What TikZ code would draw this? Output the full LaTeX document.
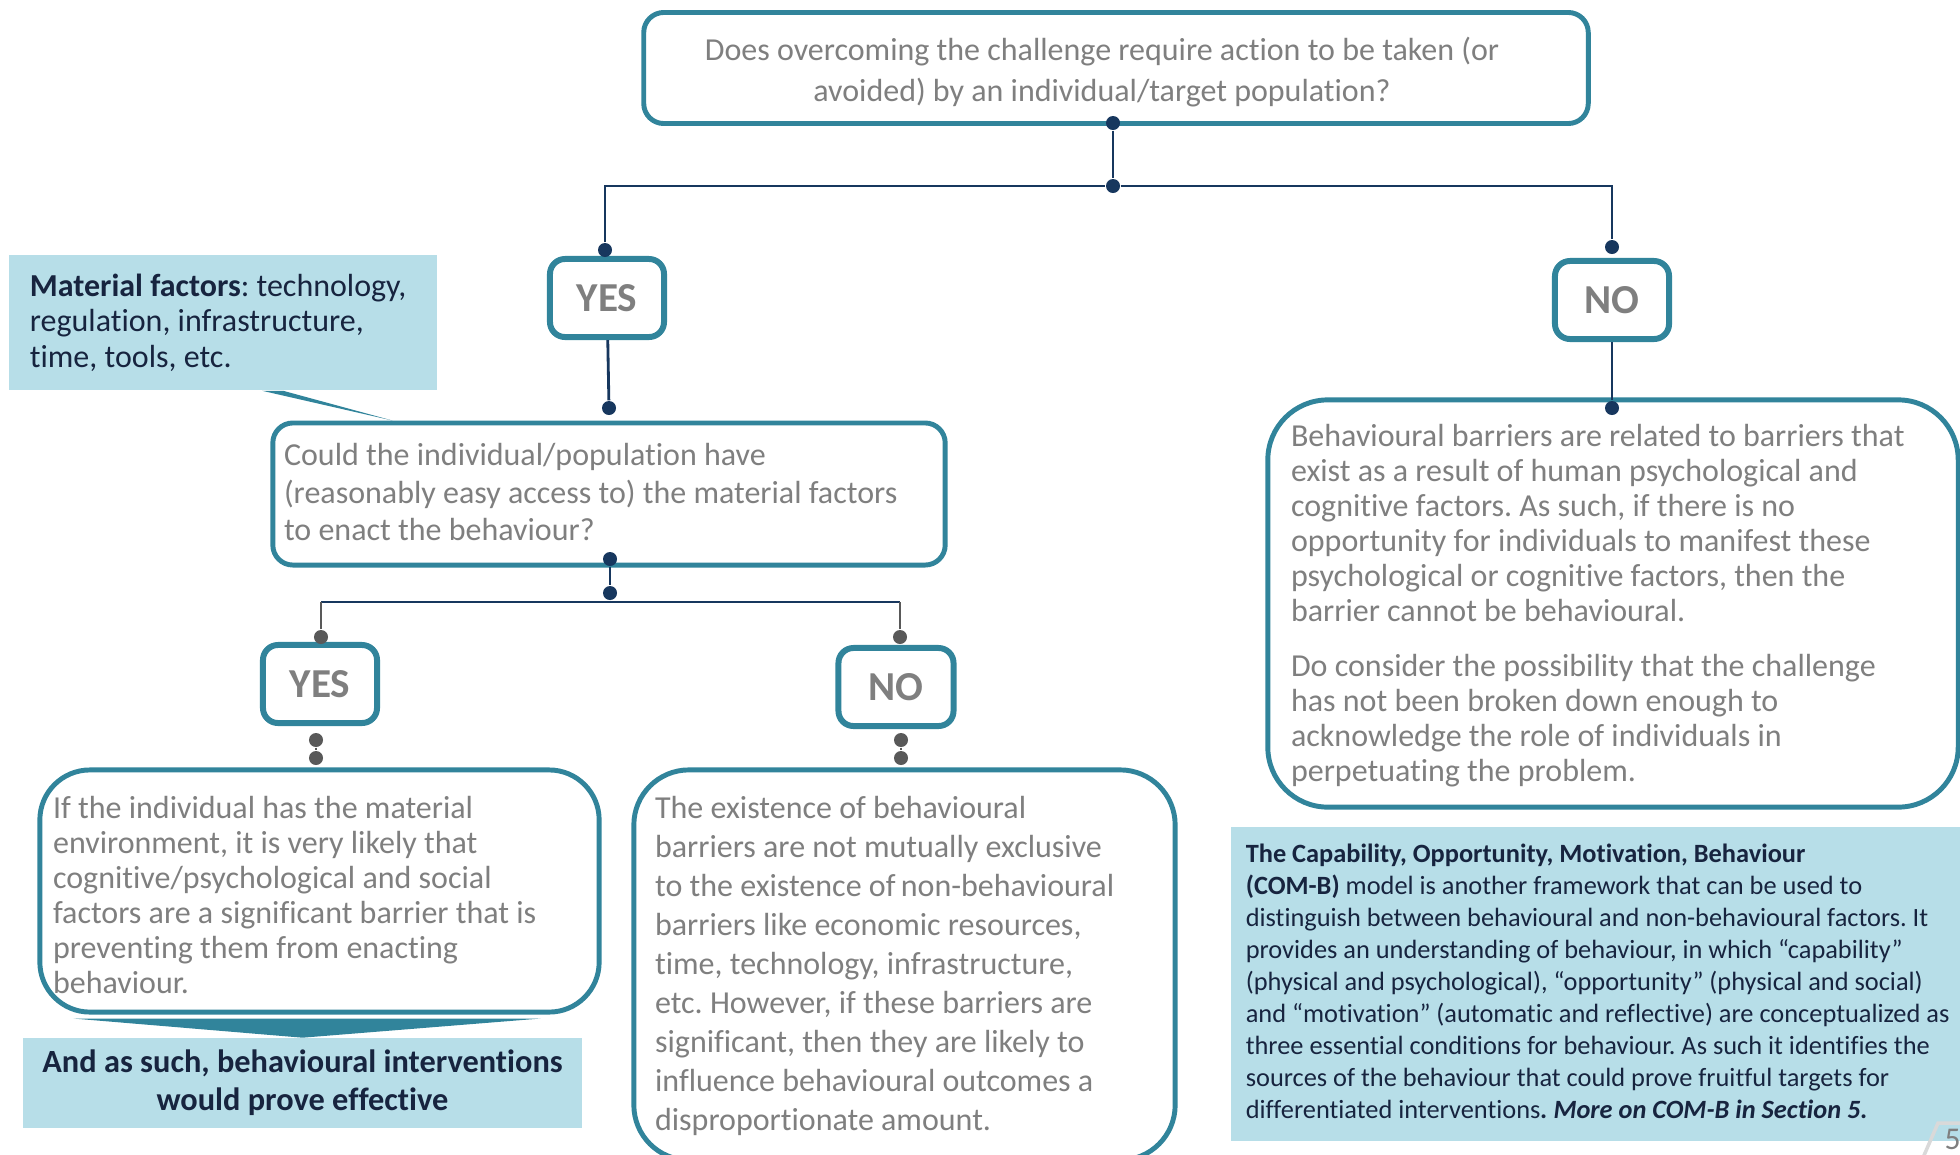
\documentclass[tikz,border=0pt]{standalone}
\usepackage{fontspec}
\setmainfont{Carlito}[Ligatures=NoCommon]
\usepackage{tikz}
\usetikzlibrary{calc}
\definecolor{boxteal}{HTML}{31849B}
\definecolor{calloutblue}{HTML}{B7DEE8}
\definecolor{calloutink}{HTML}{17243F}
\definecolor{linknavy}{HTML}{17375E}
\definecolor{bodygray}{HTML}{7F7F7F}
\definecolor{subgray}{HTML}{595959}
\definecolor{pagegray}{HTML}{D9D9D9}
\frenchspacing

\begin{document}
\begin{tikzpicture}[x=0.01cm,y=-0.01cm,
  frame/.style={draw=boxteal,line width=1.4pt,fill=white,rounded corners=#1},
  frame/.default=0.2cm,
  callout/.style={fill=calloutblue,text=calloutink},
  answer/.style={draw=boxteal,line width=1.7pt,fill=white,rounded corners=0.15cm,
    minimum width=1.14cm,minimum height=0.78cm,text=bodygray,
    font=\fontsize{11.7}{14}\selectfont\bfseries},
  body/.style={align=left,text=bodygray,inner sep=0pt,anchor=west},
  dot/.style={circle,fill=#1,inner sep=0pt,minimum size=0.14cm},
  dot/.default=linknavy,
  link/.style={draw=linknavy,line width=0.8pt},
  sublink/.style={draw=subgray,line width=0.6pt}]
\useasboundingbox (0,0) rectangle (1960,1154);
\clip (0,0) rectangle (1960,1154);

% questions and answers
\node[frame,minimum width=9.44cm,minimum height=1.11cm] (qtop) at (1116,68) {};
\node[align=center,text=bodygray,inner sep=0pt,font=\fontsize{9.1}{11.7}\selectfont]
  (qtoptxt) at ($(qtop.center)+(-14,4)$)
  {Does overcoming the challenge require action to be taken (or\\
   avoided) by an individual/target population?};
\node[answer] (yes1) at (607,298) {YES};
\node[answer] (no1) at (1612,300) {NO};
\node[frame,minimum width=6.72cm,minimum height=1.42cm] (q2) at (609,494) {};
\node[body,font=\fontsize{9.1}{10.7}\selectfont] (q2txt) at ($(q2.west)+(13,-2)$)
  {Could the individual/population have\\
   (reasonably easy access to) the material factors\\
   to enact the behaviour?};
\node[answer] (yes2) at (320,684) {YES};
\node[answer,minimum width=1.15cm] (no2) at (896,687) {NO};

% outcomes
\node[frame=0.5cm,minimum width=5.59cm,minimum height=2.42cm] (res1) at (319.5,891) {};
\node[body,font=\fontsize{9.1}{10}\selectfont] (res1txt) at ($(res1.west)+(15,4)$)
  {If the individual has the material\\
   environment, it is very likely that\\
   cognitive/psychological and social\\
   factors are a significant barrier that is\\
   preventing them from enacting\\
   behaviour.};
\node[frame=0.55cm,minimum width=5.41cm,minimum height=3.9cm] (res2) at (904.5,965) {};
\node[body,font=\fontsize{9.1}{11.1}\selectfont] (res2txt) at ($(res2.west)+(23,1)$)
  {The existence of behavioural\\
   barriers are not mutually exclusive\\
   to the existence of\,non-behavioural\\
   barriers like economic resources,\\
   time, technology, infrastructure,\\
   etc. However, if these barriers are\\
   significant, then they are likely to\\
   influence behavioural outcomes a\\
   disproportionate amount.};
\node[frame=0.6cm,minimum width=6.9cm,minimum height=4.07cm] (res3) at (1613,603.5) {};
\node[body,font=\fontsize{9.1}{10}\selectfont] (res3txt) at ($(res3.west)+(25,2)$)
  {Behavioural barriers are related to barriers that\\
   exist as a result of human psychological and\\
   cognitive factors. As such, if there is no\\
   opportunity for individuals to manifest these\\
   psychological or cognitive factors, then the\\
   barrier cannot be behavioural.\\[0.19cm]
   Do consider the possibility that the challenge\\
   has not been broken down enough to\\
   acknowledge the role of individuals in\\
   perpetuating the problem.};

% callouts
\node[callout,minimum width=4.28cm,minimum height=1.35cm] (mat) at (223,322.5) {};
\node[body,text=calloutink,font=\fontsize{9.1}{10.1}\selectfont] (mattxt) at ($(mat.west)+(21,0)$)
  {\textbf{Material factors}: technology,\\
   regulation, infrastructure,\\
   time, tools, etc.};
\fill[boxteal] ($(mat.south)+(39,0)$) -- ($(mat.south)+(60,0)$) -- ($(q2.north west)+(122,0)$) -- cycle;
\node[callout,align=center,minimum width=5.59cm,minimum height=0.8cm,
  font=\fontsize{9.2}{10.8}\selectfont\bfseries] (act) at (302.5,1083)
  {And as such, behavioural interventions\\would prove effective};
\fill[boxteal] ($(res1.south)+(-246,4)$) -- ($(res1.south)+(221,4)$) -- (act.north) -- cycle;
\node[callout,minimum width=7.44cm,minimum height=3.14cm] (comb) at (1603,984) {};
\node[body,text=calloutink,font=\fontsize{7.5}{9.1}\selectfont] (combtxt) at ($(comb.west)+(15,-3)$)
  {\textbf{The Capability, Opportunity, Motivation, Behaviour}\\
   \textbf{(COM-B)} model is another framework that can be used to\\
   distinguish between behavioural and non-behavioural factors. It\\
   provides an understanding of behaviour, in which “capability”\\
   (physical and psychological), “opportunity” (physical and social)\\
   and “motivation” (automatic and reflective) are conceptualized as\\
   three essential conditions for behaviour. As such it identifies the\\
   sources of the behaviour that could prove fruitful targets for\\
   differentiated interventions\textbf{\textit{. More on COM-B in Section 5.}}};

% connectors
\node[dot] (d1) at (1113,123) {};
\node[dot] (d2) at (1113,186) {};
\node[dot] (d3) at (605,250) {};
\node[dot] (d4) at (1612,247) {};
\node[dot] (d5) at (609,408) {};
\node[dot] (d6) at (1612,408) {};
\node[dot] (d7) at (610,559) {};
\node[dot] (d8) at (610,593) {};
\node[dot=subgray] (d9) at (321,637) {};
\node[dot=subgray] (d10) at (900,637) {};
\node[dot=subgray] (d11) at (316,740) {};
\node[dot=subgray] (d12) at (316,758) {};
\node[dot=subgray] (d13) at (901,740) {};
\node[dot=subgray] (d14) at (901,758) {};
\coordinate (j2) at (610,602);
\draw[link] (d1) -- (d2);
\draw[link] (d3) |- (d2) -| (d4);
\draw[link] (yes1) -- (d5);
\draw[link] (no1) -- (d6);
\draw[link] (d7) -- (d8);
\draw[link] (d8) -- (j2);
\draw[link] (d9 |- j2) -- (d10 |- j2);
\draw[sublink] (d9) -- (d9 |- j2);
\draw[sublink] (d10) -- (d10 |- j2);
\draw[sublink] (d11) -- (d12);
\draw[sublink] (d13) -- (d14);

% page number
\draw[pagegray,line width=1pt] (1922,1160) -- (1938,1123) -- (1970,1123);
\node[inner sep=0pt,anchor=north west,text=bodygray,font=\fontsize{9}{10}\selectfont] (pagenum) at (1944,1128) {5};
\end{tikzpicture}
\end{document}
